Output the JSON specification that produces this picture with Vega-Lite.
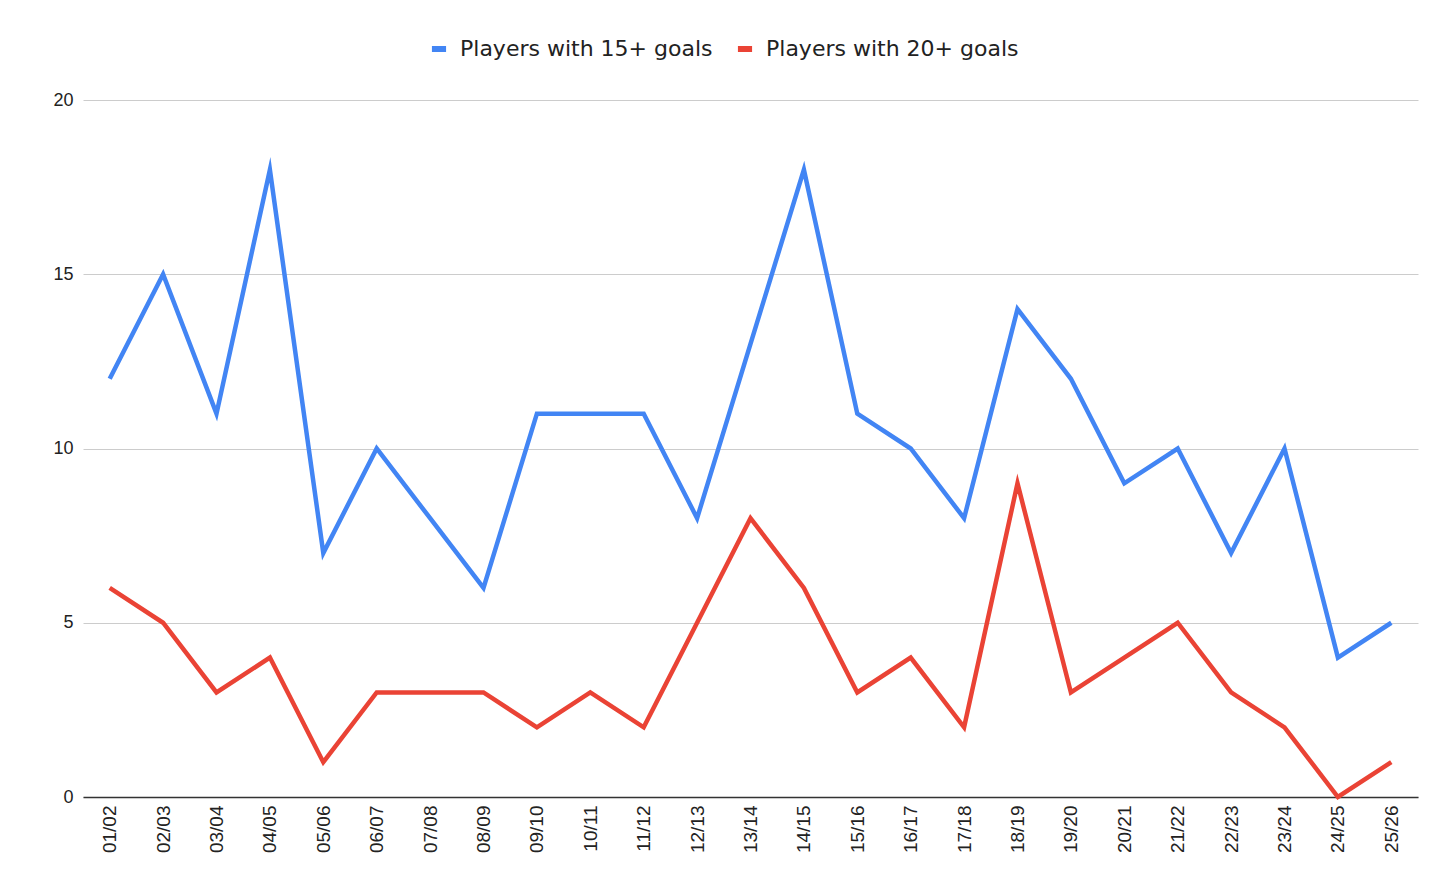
{
  "$schema": "https://vega.github.io/schema/vega-lite/v6.json",
  "width": 1335,
  "height": 697,
  "autosize": {"type": "none"},
  "padding": {"left": 83, "top": 100, "right": 38, "bottom": 97},
  "background": "white",
  "data": {
    "values": [
      {"season": "01/02", "series": "Players with 15+ goals", "players": 12},
      {"season": "02/03", "series": "Players with 15+ goals", "players": 15},
      {"season": "03/04", "series": "Players with 15+ goals", "players": 11},
      {"season": "04/05", "series": "Players with 15+ goals", "players": 18},
      {"season": "05/06", "series": "Players with 15+ goals", "players": 7},
      {"season": "06/07", "series": "Players with 15+ goals", "players": 10},
      {"season": "07/08", "series": "Players with 15+ goals", "players": 8},
      {"season": "08/09", "series": "Players with 15+ goals", "players": 6},
      {"season": "09/10", "series": "Players with 15+ goals", "players": 11},
      {"season": "10/11", "series": "Players with 15+ goals", "players": 11},
      {"season": "11/12", "series": "Players with 15+ goals", "players": 11},
      {"season": "12/13", "series": "Players with 15+ goals", "players": 8},
      {"season": "13/14", "series": "Players with 15+ goals", "players": 13},
      {"season": "14/15", "series": "Players with 15+ goals", "players": 18},
      {"season": "15/16", "series": "Players with 15+ goals", "players": 11},
      {"season": "16/17", "series": "Players with 15+ goals", "players": 10},
      {"season": "17/18", "series": "Players with 15+ goals", "players": 8},
      {"season": "18/19", "series": "Players with 15+ goals", "players": 14},
      {"season": "19/20", "series": "Players with 15+ goals", "players": 12},
      {"season": "20/21", "series": "Players with 15+ goals", "players": 9},
      {"season": "21/22", "series": "Players with 15+ goals", "players": 10},
      {"season": "22/23", "series": "Players with 15+ goals", "players": 7},
      {"season": "23/24", "series": "Players with 15+ goals", "players": 10},
      {"season": "24/25", "series": "Players with 15+ goals", "players": 4},
      {"season": "25/26", "series": "Players with 15+ goals", "players": 5},
      {"season": "01/02", "series": "Players with 20+ goals", "players": 6},
      {"season": "02/03", "series": "Players with 20+ goals", "players": 5},
      {"season": "03/04", "series": "Players with 20+ goals", "players": 3},
      {"season": "04/05", "series": "Players with 20+ goals", "players": 4},
      {"season": "05/06", "series": "Players with 20+ goals", "players": 1},
      {"season": "06/07", "series": "Players with 20+ goals", "players": 3},
      {"season": "07/08", "series": "Players with 20+ goals", "players": 3},
      {"season": "08/09", "series": "Players with 20+ goals", "players": 3},
      {"season": "09/10", "series": "Players with 20+ goals", "players": 2},
      {"season": "10/11", "series": "Players with 20+ goals", "players": 3},
      {"season": "11/12", "series": "Players with 20+ goals", "players": 2},
      {"season": "12/13", "series": "Players with 20+ goals", "players": 5},
      {"season": "13/14", "series": "Players with 20+ goals", "players": 8},
      {"season": "14/15", "series": "Players with 20+ goals", "players": 6},
      {"season": "15/16", "series": "Players with 20+ goals", "players": 3},
      {"season": "16/17", "series": "Players with 20+ goals", "players": 4},
      {"season": "17/18", "series": "Players with 20+ goals", "players": 2},
      {"season": "18/19", "series": "Players with 20+ goals", "players": 9},
      {"season": "19/20", "series": "Players with 20+ goals", "players": 3},
      {"season": "20/21", "series": "Players with 20+ goals", "players": 4},
      {"season": "21/22", "series": "Players with 20+ goals", "players": 5},
      {"season": "22/23", "series": "Players with 20+ goals", "players": 3},
      {"season": "23/24", "series": "Players with 20+ goals", "players": 2},
      {"season": "24/25", "series": "Players with 20+ goals", "players": 0},
      {"season": "25/26", "series": "Players with 20+ goals", "players": 1}
    ]
  },
  "mark": {"type": "line", "strokeWidth": 4.5, "strokeJoin": "miter", "strokeMiterLimit": 10},
  "encoding": {
    "x": {
      "field": "season",
      "type": "ordinal",
      "scale": {"type": "point", "padding": 0.5},
      "axis": {
        "title": null,
        "labelAngle": -90,
        "labelFont": "Liberation Sans",
        "labelFontSize": 19,
        "labelColor": "#222",
        "labelPadding": 8,
        "ticks": false,
        "grid": false,
        "domainColor": "#333",
        "domainWidth": 1.5
      }
    },
    "y": {
      "field": "players",
      "type": "quantitative",
      "scale": {"domain": [0, 20], "nice": false},
      "axis": {
        "title": null,
        "values": [0, 5, 10, 15, 20],
        "labelFont": "Liberation Sans",
        "labelFontSize": 18,
        "labelColor": "#222",
        "labelPadding": 10,
        "ticks": false,
        "domain": false,
        "gridColor": "#cccccc",
        "gridWidth": 1
      }
    },
    "color": {
      "field": "series",
      "type": "nominal",
      "scale": {
        "domain": ["Players with 15+ goals", "Players with 20+ goals"],
        "range": ["#4285f4", "#ea4335"]
      },
      "legend": {
        "title": null,
        "orient": "none",
        "direction": "horizontal",
        "legendX": 345,
        "legendY": -62,
        "padding": 0,
        "labelFont": "DejaVu Sans",
        "labelFontSize": 22,
        "labelColor": "#222",
        "labelLimit": 400,
        "symbolType": "stroke",
        "symbolSize": 200,
        "symbolStrokeWidth": 6,
        "symbolOpacity": 1,
        "columnPadding": 12,
        "labelOffset": 10
      }
    }
  },
  "config": {
    "view": {"stroke": null}
  }
}
